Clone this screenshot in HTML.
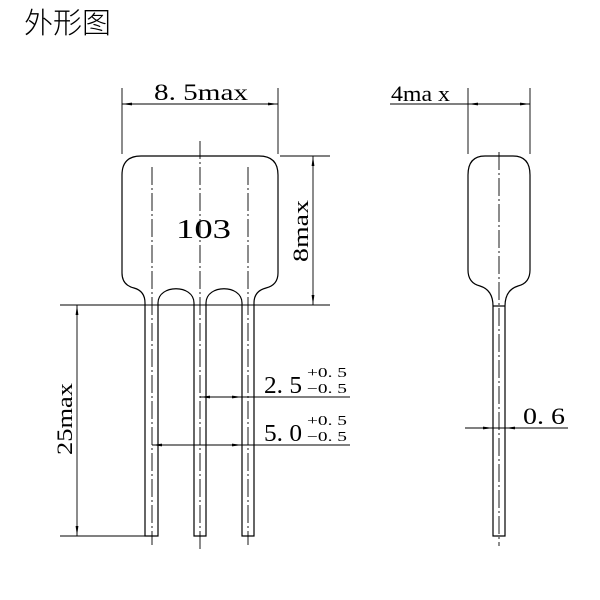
<!DOCTYPE html>
<html><head><meta charset="utf-8"><style>
body{margin:0;background:#fff;width:600px;height:600px;overflow:hidden}
svg{display:block}
text{font-family:"Liberation Serif","Noto Serif CJK SC",serif;fill:#000}
</style></head><body>
<svg width="600" height="600" viewBox="0 0 600 600" xmlns="http://www.w3.org/2000/svg">
<defs>
<marker id="a" viewBox="0 0 10 4" refX="10" refY="2" markerWidth="20" markerHeight="4" markerUnits="userSpaceOnUse" orient="auto-start-reverse"><path d="M0,0.6 L10,2 L0,3.4Z" fill="#000"/></marker>
</defs>
<text x="24" y="33" font-size="29" style="font-family:'Noto Sans CJK SC',sans-serif;font-weight:300">外形图</text>
<g fill="none" stroke="#000" stroke-width="1.2">
<path d="M122,273 V175 Q122,156 141,156 H259 Q278,156 278,175 V273 Q278,285 266,288 Q254,291 254,303 V536 H242 V303 C242,284 206,284 206,303 V536 H194 V303 C194,284 158,284 158,303 V536 H145 V303 Q145,291 134,288 Q122,285 122,273 Z"/>
<path d="M468,270 V175 Q468,156 485,156 H513 Q530,156 530,175 V270 Q530,283 518,286 Q505,290 505,306 V536 H493 V306 Q493,290 480,286 Q468,283 468,270 Z"/>
<line x1="493" y1="306" x2="505" y2="306"/>
</g>
<g fill="none" stroke="#000" stroke-width="0.9">
<g stroke-dasharray="18,3,2,3">
<line x1="200" y1="141" x2="200" y2="552"/>
<line x1="152" y1="167" x2="152" y2="545"/>
<line x1="248" y1="167" x2="248" y2="545"/>
<line x1="499" y1="152" x2="499" y2="546"/>
</g>
<line x1="122" y1="88" x2="122" y2="154"/>
<line x1="278" y1="88" x2="278" y2="154"/>
<line x1="122" y1="104" x2="278" y2="104" marker-start="url(#a)" marker-end="url(#a)"/>
<line x1="280" y1="156" x2="330" y2="156"/>
<line x1="60" y1="305" x2="330" y2="305"/>
<line x1="313" y1="156" x2="313" y2="305" marker-start="url(#a)" marker-end="url(#a)"/>
<line x1="60" y1="536" x2="145" y2="536"/>
<line x1="77" y1="305" x2="77" y2="536" marker-start="url(#a)" marker-end="url(#a)"/>
<line x1="200" y1="397" x2="242" y2="397" marker-start="url(#a)" marker-end="url(#a)"/>
<line x1="242" y1="397" x2="350" y2="397"/>
<line x1="152" y1="445" x2="242" y2="445" marker-start="url(#a)" marker-end="url(#a)"/>
<line x1="242" y1="445" x2="350" y2="445"/>
<line x1="468" y1="88" x2="468" y2="154"/>
<line x1="530" y1="88" x2="530" y2="154"/>
<line x1="390" y1="104" x2="468" y2="104"/>
<line x1="468" y1="104" x2="530" y2="104" marker-start="url(#a)" marker-end="url(#a)"/>
<line x1="465" y1="428" x2="568" y2="428"/>
<line x1="473" y1="428" x2="493" y2="428" marker-end="url(#a)"/>
<line x1="525" y1="428" x2="505" y2="428" marker-end="url(#a)"/>
</g>
<text x="154" y="100" font-size="23" textLength="94" lengthAdjust="spacingAndGlyphs">8. 5max</text>
<text x="176" y="238" font-size="27" textLength="55" lengthAdjust="spacingAndGlyphs">103</text>
<text transform="translate(308,262) rotate(-90)" font-size="22" textLength="62" lengthAdjust="spacingAndGlyphs">8max</text>
<text transform="translate(72,455) rotate(-90)" font-size="22" textLength="72" lengthAdjust="spacingAndGlyphs">25max</text>
<text x="264" y="393" font-size="24" textLength="38" lengthAdjust="spacingAndGlyphs">2. 5</text>
<text x="307" y="377" font-size="14" textLength="40" lengthAdjust="spacingAndGlyphs">+0. 5</text>
<text x="307" y="393" font-size="14" textLength="40" lengthAdjust="spacingAndGlyphs">−0. 5</text>
<text x="264" y="441" font-size="24" textLength="38" lengthAdjust="spacingAndGlyphs">5. 0</text>
<text x="307" y="425" font-size="14" textLength="40" lengthAdjust="spacingAndGlyphs">+0. 5</text>
<text x="307" y="441" font-size="14" textLength="40" lengthAdjust="spacingAndGlyphs">−0. 5</text>
<text x="391" y="101" font-size="22" textLength="59" lengthAdjust="spacingAndGlyphs">4ma x</text>
<text x="523" y="424" font-size="23" textLength="42" lengthAdjust="spacingAndGlyphs">0. 6</text>
</svg>
</body></html>
